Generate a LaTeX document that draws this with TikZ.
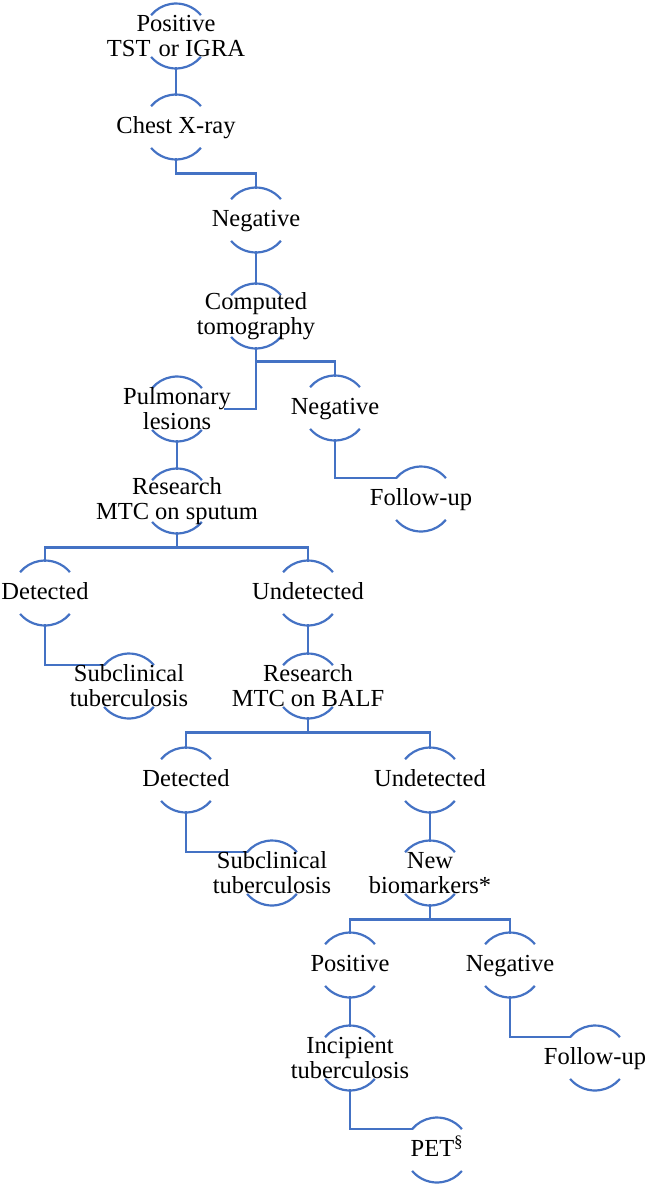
\documentclass[tikz,border=0pt]{standalone}
\usepackage{fontspec}
\setmainfont{Liberation Serif}
\usetikzlibrary{backgrounds}
\definecolor{lineblue}{HTML}{4472C4}
\begin{document}
\begin{tikzpicture}[x=1pt,y=-1pt,
  lbl/.style={inner sep=0pt,align=center,text=black,font=\fontsize{24.5}{25}\selectfont},
  one/.style={lbl,text height=18pt,text depth=5pt},
  conn/.style={draw=lineblue,line width=2.2pt,line cap=rect},
  arcline/.style={draw=lineblue,line width=2.2pt}]
\useasboundingbox (0,0) rectangle (646,1187);
% nodes
\node[lbl] (pos1) at (176,36) {Positive\\TST\,\,or IGRA};
\node[one] (chest) at (176,127) {Chest X-ray};
\node[one] (neg1) at (256,220) {Negative};
\node[lbl] (ct) at (256,316) {Computed\\tomography};
\node[lbl] (pul) at (177,409) {Pulmonary\\lesions};
\node[one] (neg2) at (335,408) {Negative};
\node[one] (fu1) at (421,499) {Follow-up};
\node[lbl] (rsp) at (177,501) {Research\\MTC on sputum};
\node[one] (det1) at (45,593) {Detected};
\node[one] (und1) at (308,593) {Undetected};
\node[lbl] (sub1) at (129,686) {Subclinical\\tuberculosis};
\node[lbl] (balf) at (308,686) {Research\\MTC on BALF};
\node[one] (det2) at (186,780) {Detected};
\node[one] (und2) at (430,780) {Undetected};
\node[lbl] (sub2) at (272,873) {Subclinical\\tuberculosis};
\node[lbl] (bio) at (430,873) {New\\biomarkers*};
\node[one] (pos2) at (350,965) {Positive};
\node[one] (neg3) at (510,965) {Negative};
\node[lbl] (inc) at (350,1058) {Incipient\\tuberculosis};
\node[one] (fu2) at (595,1058) {Follow-up};
\node[one] (pet) at (437,1150) {PET\textsuperscript{\S}};
% anchor coordinates on the arcs
\foreach \n in {pos1,chest,neg1,ct,pul,neg2,fu1,rsp,det1,und1,sub1,balf,det2,und2,sub2,bio,pos2,neg3,inc,fu2,pet}{
  \coordinate (\n-t) at ([yshift=32.5pt]\n.center);
  \coordinate (\n-b) at ([yshift=-32.5pt]\n.center);
  \coordinate (\n-tl) at ([shift={(140:32.5pt)}]\n.center);
}
\coordinate (pul-e) at ([xshift=48pt]pul.center);
\begin{pgfonlayer}{background}
\foreach \n in {pos1,chest,neg1,ct,pul,neg2,fu1,rsp,det1,und1,sub1,balf,det2,und2,sub2,bio,pos2,neg3,inc,fu2,pet}{
  \draw[arcline] ([shift={(40:32.5pt)}]\n.center) arc[start angle=40,end angle=140,radius=32.5pt];
  \draw[arcline] ([shift={(220:32.5pt)}]\n.center) arc[start angle=220,end angle=320,radius=32.5pt];
}
% connectors
\draw[conn] (pos1-b) -- (chest-t);
\draw[conn] (chest-b) -- ++(0,14) -| (neg1-t);
\draw[conn] (neg1-b) -- (ct-t);
\draw[conn] (ct-b) |- (pul-e);
\draw[conn] (ct-b) -- ++(0,13) -| (neg2-t);
\draw[conn] (neg2-b) |- (fu1-tl);
\draw[conn] (pul-b) -- (rsp-t);
\draw[conn] (rsp-b) -- ++(0,14) -| (det1-t);
\draw[conn] (rsp-b) -- ++(0,14) -| (und1-t);
\draw[conn] (det1-b) |- (sub1-tl);
\draw[conn] (und1-b) -- (balf-t);
\draw[conn] (balf-b) -- ++(0,14) -| (det2-t);
\draw[conn] (balf-b) -- ++(0,14) -| (und2-t);
\draw[conn] (det2-b) |- (sub2-tl);
\draw[conn] (und2-b) -- (bio-t);
\draw[conn] (bio-b) -- ++(0,14) -| (pos2-t);
\draw[conn] (bio-b) -- ++(0,14) -| (neg3-t);
\draw[conn] (pos2-b) -- (inc-t);
\draw[conn] (neg3-b) |- (fu2-tl);
\draw[conn] (inc-b) |- (pet-tl);
\end{pgfonlayer}
\end{tikzpicture}
\end{document}
